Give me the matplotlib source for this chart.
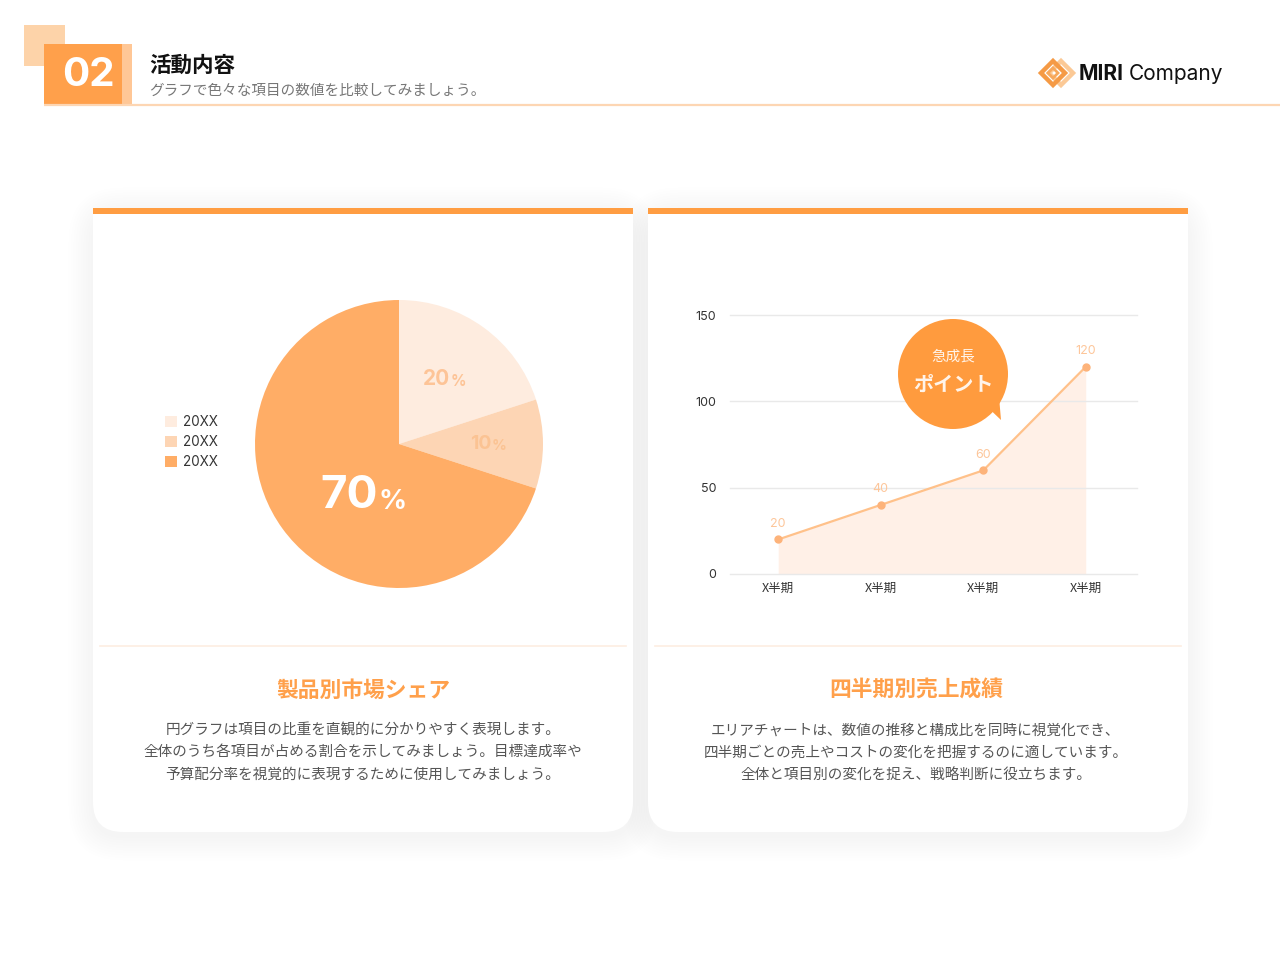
import matplotlib
matplotlib.use("Agg")
import matplotlib.pyplot as plt
from matplotlib.patches import Rectangle, FancyBboxPatch, Circle, Polygon, Patch
import matplotlib.transforms as mtransforms
import numpy as np

plt.rcParams['font.family'] = ['Noto Sans CJK JP', 'DejaVu Sans']

# ---------------- data ----------------
pie_labels = ['20XX', '20XX', '20XX']
pie_values = [20, 10, 70]
pie_colors = ['#FEECDF', '#FDD5B4', '#FFAD66']

quarters = ['X半期', 'X半期', 'X半期', 'X半期']
sales = [20, 40, 60, 120]
y_ticks = [0, 50, 100, 150]

header_no = '02'
header_title = '活動内容'
header_sub = 'グラフで色々な項目の数値を比較してみましょう。'
left_title = '製品別市場シェア'
left_desc = ['円グラフは項目の比重を直観的に分かりやすく表現します。',
             '全体のうち各項目が占める割合を示してみましょう。目標達成率や',
             '予算配分率を視覚的に表現するために使用してみましょう。']
right_title = '四半期別売上成績'
right_desc = ['エリアチャートは、数値の推移と構成比を同時に視覚化でき、',
              '四半期ごとの売上やコストの変化を把握するのに適しています。',
              '全体と項目別の変化を捉え、戦略判断に役立ちます。']
bubble_lines = ['急成長', 'ポイント']

ORANGE = '#FF9D42'
W, H = 1280, 960
fig = plt.figure(figsize=(12.8, 9.6), dpi=100)
fig.patch.set_facecolor('white')

bg = fig.add_axes([0, 0, 1, 1], zorder=0)
bg.set_xlim(0, W); bg.set_ylim(H, 0); bg.axis('off')

# ---------------- header ----------------
bg.add_patch(Rectangle((24, 25), 41, 41, color='#FDD3A9', lw=0))
bg.add_patch(Rectangle((44, 44), 78, 60, color='#FFA04B', lw=0))
bg.add_patch(Rectangle((122, 44), 10, 60, color='#FFC796', lw=0))
bg.text(88, 76, header_no, color='white', fontsize=29, fontweight='bold',
        family=['Inter', 'DejaVu Sans'], ha='center', va='center')
bg.text(149, 65, header_title, fontsize=15.5, fontweight='bold', color='#111111',
        ha='left', va='center')
bg.text(149, 91, header_sub, fontsize=10.5, color='#777777', ha='left', va='center')
bg.plot([44, 1280], [104.5, 104.5], color='#FDD6B3', lw=1.6, solid_capstyle='butt')

# logo
def diamond(cx, cy, r, **kw):
    return Polygon([(cx, cy - r), (cx + r, cy), (cx, cy + r), (cx - r, cy)], closed=True, fill=False, **kw)
bg.add_patch(diamond(1061, 73, 12, ec='#FBC996', lw=3.2))
bg.add_patch(diamond(1053, 73, 12, ec='#F59A45', lw=3.2))
bg.add_patch(diamond(1053, 73, 5, ec='#F7A85C', lw=2))
bg.text(1079, 74, 'MIRI', fontsize=15, fontweight='bold', family=['Inter', 'DejaVu Sans'],
        color='#111111', ha='left', va='center')
bg.text(1129, 74, 'Company', fontsize=15, family=['Inter', 'DejaVu Sans'],
        color='#111111', ha='left', va='center')

# ---------------- cards ----------------
def card(x0, x1, y0=208, y1=832):
    # soft shadow
    for i in range(10):
        g = 2 + i * 2.5
        bg.add_patch(FancyBboxPatch((x0 - g, y0 - g + 4), (x1 - x0) + 2 * g, (y1 - y0) + 2 * g,
                                    boxstyle='round,pad=0,rounding_size=%f' % (30 + g),
                                    fc='#000000', ec='none', alpha=0.0035, zorder=1))
    bg.add_patch(FancyBboxPatch((x0, y0), x1 - x0, y1 - y0,
                                boxstyle='round,pad=0,rounding_size=30',
                                fc='white', ec='none', zorder=2))
    bg.add_patch(Rectangle((x0, y0), x1 - x0, 60, fc='white', ec='none', zorder=2))
    bg.add_patch(Rectangle((x0, y0), x1 - x0, 6, fc=ORANGE, ec='none', zorder=3))
    bg.plot([x0 + 7, x1 - 7], [645.5, 645.5], color='#FDEDE2', lw=1.2, zorder=3)

card(93, 633)
card(648, 1188)

def card_text(cx, title, lines, ys):
    bg.text(cx, 690.5, title, fontsize=15.7, fontweight='bold', color='#FFA04B',
            ha='center', va='center', zorder=4)
    for ln, yy in zip(lines, ys):
        bg.text(cx, yy, ln, fontsize=10.5, color='#555555', ha='center', va='center', zorder=4)

card_text(363, left_title, left_desc, [730, 752, 775])
card_text(916, right_title, right_desc, [731, 753, 776])

# ---------------- pie ----------------
cx, cy, r = 399, 444, 144
axp = fig.add_axes([(cx - r) / W, (H - cy - r) / H, 2 * r / W, 2 * r / H], zorder=2)
axp.set_facecolor('none')
wedges, _ = axp.pie(pie_values, colors=pie_colors, startangle=90, counterclock=False,
                    radius=1.0, wedgeprops=dict(lw=0))
axp.set_xlim(-1, 1); axp.set_ylim(-1, 1); axp.set_aspect('equal')

label_r = [0.56, 0.62, 0.41]
label_specs = [(15, 11, '#FDC497'), (14, 10.5, '#FBC393'), (33, 20, 'white')]
for w, v, lr, (fs, fs2, col) in zip(wedges, pie_values, label_r, label_specs):
    ang = np.deg2rad((w.theta1 + w.theta2) / 2)
    if v == 70:
        ang = np.deg2rad(-118)
    x, y = lr * np.cos(ang), lr * np.sin(ang)
    t1 = mtransforms.offset_copy(axp.transData, fig=fig, x=fs2 * 0.3 - 1, y=0, units='points')
    axp.text(x, y, str(v), transform=t1, fontsize=fs, fontweight='bold', color=col,
             family=['Inter', 'DejaVu Sans'], ha='right', va='center')
    t2 = mtransforms.offset_copy(axp.transData, fig=fig, x=fs2 * 0.3 - 0.5, y=-fs * 0.12, units='points')
    axp.text(x, y, '%', transform=t2, fontsize=fs2, fontweight='bold', color=col,
             family=['Inter', 'DejaVu Sans'], ha='left', va='center')

handles = [Patch(fc=c, ec='none') for c in pie_colors]
leg = axp.legend(handles, pie_labels, loc='center left', frameon=False,
                 bbox_to_anchor=(165 / W, (H - 442) / H), bbox_transform=fig.transFigure,
                 fontsize=9.7, handlelength=0.9, handleheight=0.9, handletextpad=0.45,
                 labelspacing=0.45, borderpad=0, borderaxespad=0)
for t in leg.get_texts():
    t.set_color('#333333')
    t.set_family(['Inter', 'DejaVu Sans'])

# ---------------- area chart ----------------
axl = fig.add_axes([730 / W, (H - 574) / H, 407 / W, 259 / H], zorder=2)
axl.set_facecolor('none')
xs = np.arange(len(quarters))
axl.fill_between(xs, sales, 0, color='#FFEDE1', alpha=0.8, lw=0, zorder=1)
axl.plot(xs, sales, color='#FFC18A', lw=1.6, marker='o', ms=5, mfc='#FDB37A', mec='#FDB37A', zorder=3)
for x, v in zip(xs, sales):
    axl.annotate(str(v), (x, v), xytext=(0, 7), textcoords='offset points', ha='center', va='bottom',
                 fontsize=9, color='#FDC69A', family=['Inter', 'DejaVu Sans'])
axl.set_xlim(-0.47, 3.5)
axl.set_ylim(0, 150)
axl.set_yticks(y_ticks)
axl.set_xticks(xs)
axl.set_xticklabels(quarters)
axl.tick_params(length=0, labelsize=9, colors='#333333')
axl.tick_params(axis='y', pad=10)
axl.tick_params(axis='x', pad=6)
for lab in axl.get_yticklabels():
    lab.set_family(['Inter', 'DejaVu Sans'])
axl.grid(axis='y', color='#E9E9E9', lw=1, zorder=0)
for gl in axl.get_ygridlines():
    gl.set_clip_on(False)
for s in axl.spines.values():
    s.set_visible(False)

# ---------------- bubble (overlay) ----------------
fg = fig.add_axes([0, 0, 1, 1], zorder=5)
fg.set_xlim(0, W); fg.set_ylim(H, 0); fg.axis('off')
bcx, bcy, br = 953, 374, 55
fg.add_patch(Circle((bcx, bcy), br, color='#FF9B3E', lw=0))
fg.add_patch(Polygon([(980, 400), (1001, 420), (998, 385)], closed=True, color='#FF9B3E', lw=0))
fg.text(bcx, 357, bubble_lines[0], color='#FFF4EA', fontsize=10.5, ha='center', va='center')
fg.text(bcx, 384, bubble_lines[1], color='#FFF4EA', fontsize=14.5, fontweight='bold', ha='center', va='center')

fig.savefig('out.png', dpi=100)
